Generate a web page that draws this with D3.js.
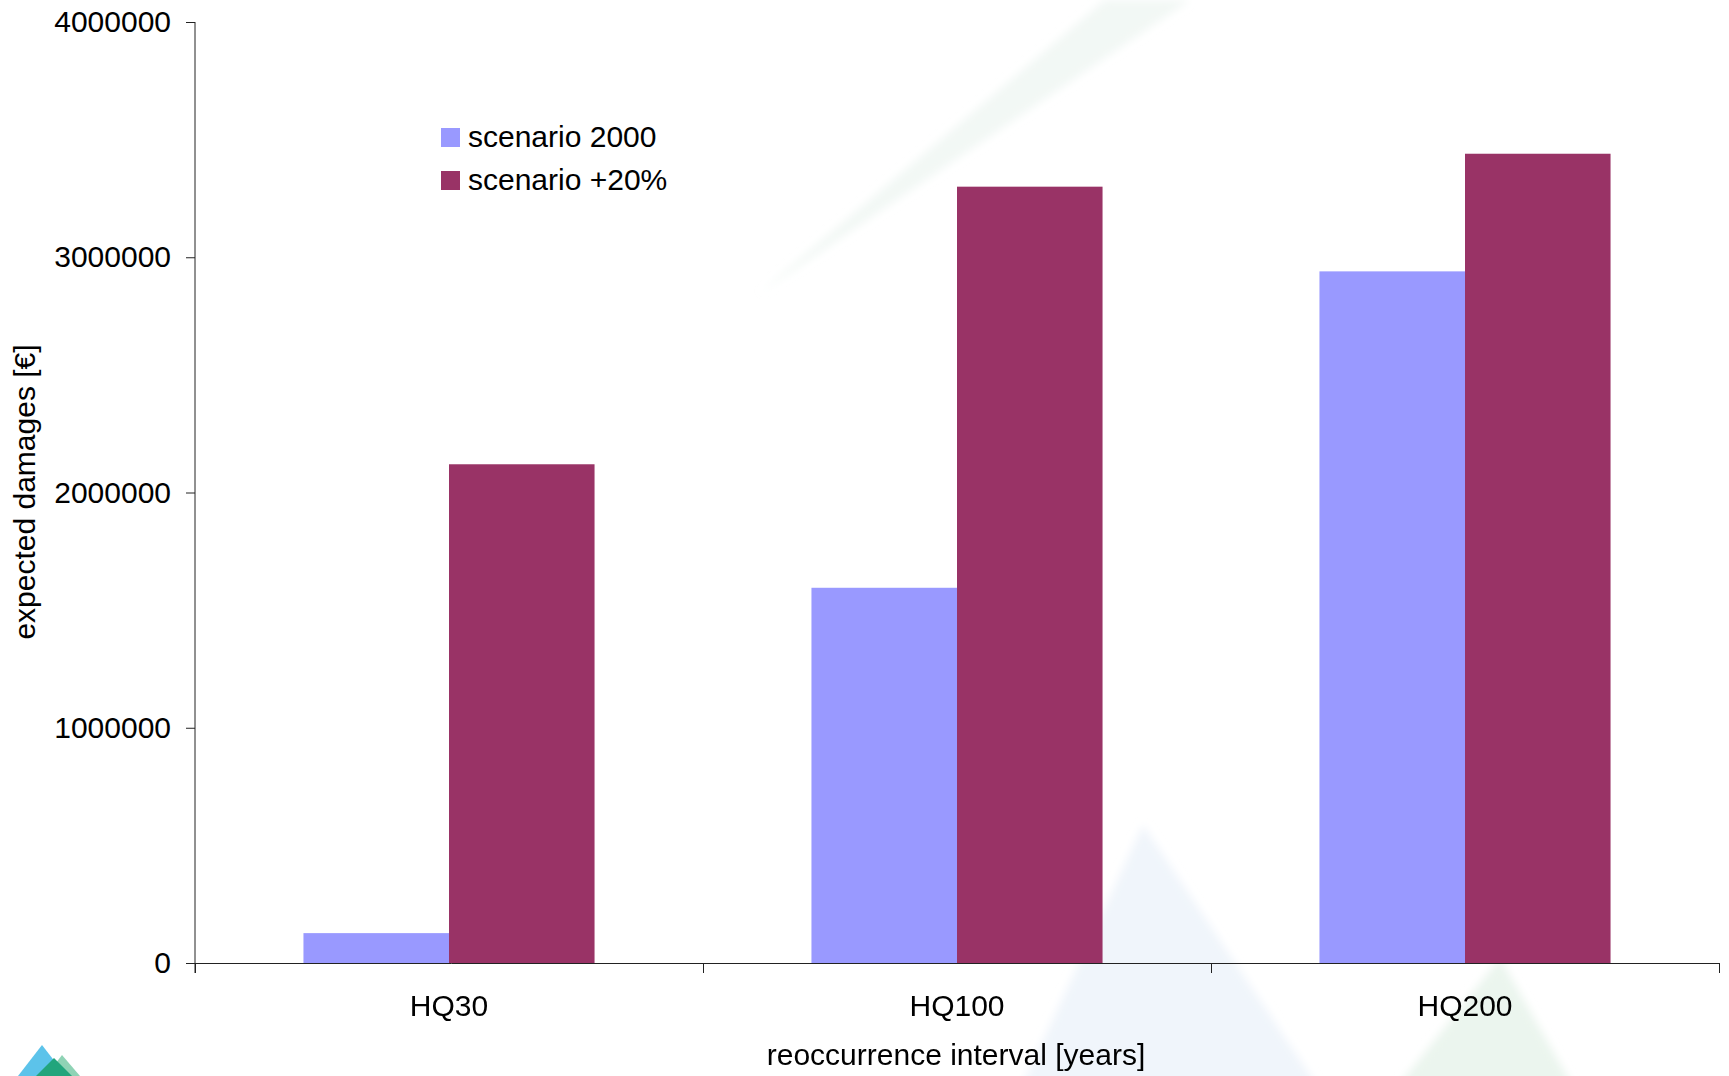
<!DOCTYPE html>
<html>
<head>
<meta charset="utf-8">
<script src="https://cdn.jsdelivr.net/npm/d3@7"></script>
<style>
  html, body { margin: 0; padding: 0; background: #ffffff; }
  svg { display: block; }
  text { font-family: "Liberation Sans", Arial, Helvetica, sans-serif; fill: #000; }
</style>
</head>
<body>
<svg id="chart" width="1729" height="1076"></svg>
<script>
// Expected flood damages per reoccurrence interval, two scenarios
const categories = ["HQ30", "HQ100", "HQ200"];
const seriesNames = ["scenario 2000", "scenario +20%"];
const scenario2000 = [127000, 1595000, 2940000];
const scenarioPlus20 = [2120000, 3300000, 3440000];
const yTicks = [0, 1000000, 2000000, 3000000, 4000000];
const seriesColors = ["#9999ff", "#993366"];

const svg = d3.select("#chart");
const plot = { left: 195, right: 1719, top: 22, bottom: 963 };
const FS = 30;

// soft edge for the faint backdrop shapes
const defs = svg.append("defs");
defs.append("filter").attr("id", "soft")
  .attr("x", "-20%").attr("y", "-20%").attr("width", "140%").attr("height", "140%")
  .append("feGaussianBlur").attr("stdDeviation", 4);

const deco = svg.append("g").attr("class", "backdrop").attr("filter", "url(#soft)");
deco.append("path")
  .attr("d", "M760,293 L1105,0 L1190,0 Z")
  .attr("fill", "#edf5f1").attr("opacity", 0.75);
deco.append("path")
  .attr("d", "M1143,825 L1020,1090 L1320,1090 Z")
  .attr("fill", "#f0f5fb");
deco.append("path")
  .attr("d", "M1500,958 L1395,1090 L1575,1090 Z")
  .attr("fill", "#ebf5ee");

// small logo mark in the lower-left corner
const logo = svg.append("g").attr("class", "logo");
logo.append("path").attr("d", "M42,1045 L18,1076 L66,1076 Z").attr("fill", "#5cc3ea");
logo.append("path").attr("d", "M62,1055 L46,1076 L80,1076 Z").attr("fill", "#8fd3b5");
logo.append("path").attr("d", "M54,1058 L36,1076 L72,1076 Z").attr("fill", "#22a57c");

// scales
const x0 = d3.scaleBand()
  .domain(categories)
  .range([plot.left, plot.right])
  .paddingInner(0.427)
  .paddingOuter(0.2135);
const x1 = d3.scaleBand()
  .domain(seriesNames)
  .range([0, x0.bandwidth()]);
const y = d3.scaleLinear()
  .domain([0, 4000000])
  .range([plot.bottom, plot.top]);

// bars
const rows = categories.map((c, i) => ({ cat: c, values: [scenario2000[i], scenarioPlus20[i]] }));
const groups = svg.append("g").selectAll("g")
  .data(rows).join("g")
  .attr("transform", d => `translate(${x0(d.cat)},0)`);
groups.selectAll("rect")
  .data(d => d.values.map((v, j) => ({ name: seriesNames[j], v, j })))
  .join("rect")
  .attr("x", d => x1(d.name))
  .attr("width", x1.bandwidth())
  .attr("y", d => y(d.v))
  .attr("height", d => y(0) - y(d.v))
  .attr("fill", d => seriesColors[d.j]);

// y axis
const yAxis = d3.axisLeft(y)
  .tickValues(yTicks)
  .tickFormat(d3.format("d"))
  .tickSize(9)
  .tickSizeOuter(0)
  .tickPadding(15);
const gy = svg.append("g")
  .attr("transform", `translate(${plot.left},0)`)
  .call(yAxis);
gy.select(".domain").remove();
gy.selectAll(".tick line").attr("stroke", "#222");
gy.selectAll(".tick text")
  .attr("font-size", FS)
  .attr("font-family", "Liberation Sans, Arial, sans-serif")
  .attr("fill", "#000");
svg.append("line")
  .attr("x1", plot.left).attr("x2", plot.left)
  .attr("y1", plot.top).attr("y2", plot.bottom + 10)
  .attr("stroke", "#222").attr("stroke-width", 1);

// x axis: baseline with separator ticks between categories
const xb = d3.scaleLinear().domain([0, categories.length]).range([plot.left, plot.right]);
const xAxis = d3.axisBottom(xb)
  .tickValues(d3.range(categories.length + 1))
  .tickFormat("")
  .tickSize(10)
  .tickSizeOuter(0);
const gx = svg.append("g")
  .attr("transform", `translate(0,${plot.bottom})`)
  .call(xAxis);
gx.select(".domain").attr("stroke", "#222");
gx.selectAll(".tick line").attr("stroke", "#222");

svg.append("g").selectAll("text")
  .data(categories).join("text")
  .attr("x", d => x0(d) + x0.bandwidth() / 2)
  .attr("y", 1016)
  .attr("text-anchor", "middle")
  .attr("font-size", FS)
  .text(d => d);

// axis titles
svg.append("text")
  .attr("x", 956).attr("y", 1065)
  .attr("text-anchor", "middle")
  .attr("font-size", FS)
  .text("reoccurrence interval [years]");
svg.append("text")
  .attr("transform", "translate(35,492) rotate(-90)")
  .attr("text-anchor", "middle")
  .attr("font-size", FS)
  .text("expected damages [€]");

// legend
const legend = svg.append("g").attr("transform", "translate(441,128)");
const li = legend.selectAll("g").data(seriesNames).join("g")
  .attr("transform", (d, i) => `translate(0,${i * 43})`);
li.append("rect")
  .attr("width", 19).attr("height", 19)
  .attr("fill", (d, i) => seriesColors[i]);
li.append("text")
  .attr("x", 27).attr("y", 19)
  .attr("font-size", FS)
  .text(d => d);
</script>
</body>
</html>
